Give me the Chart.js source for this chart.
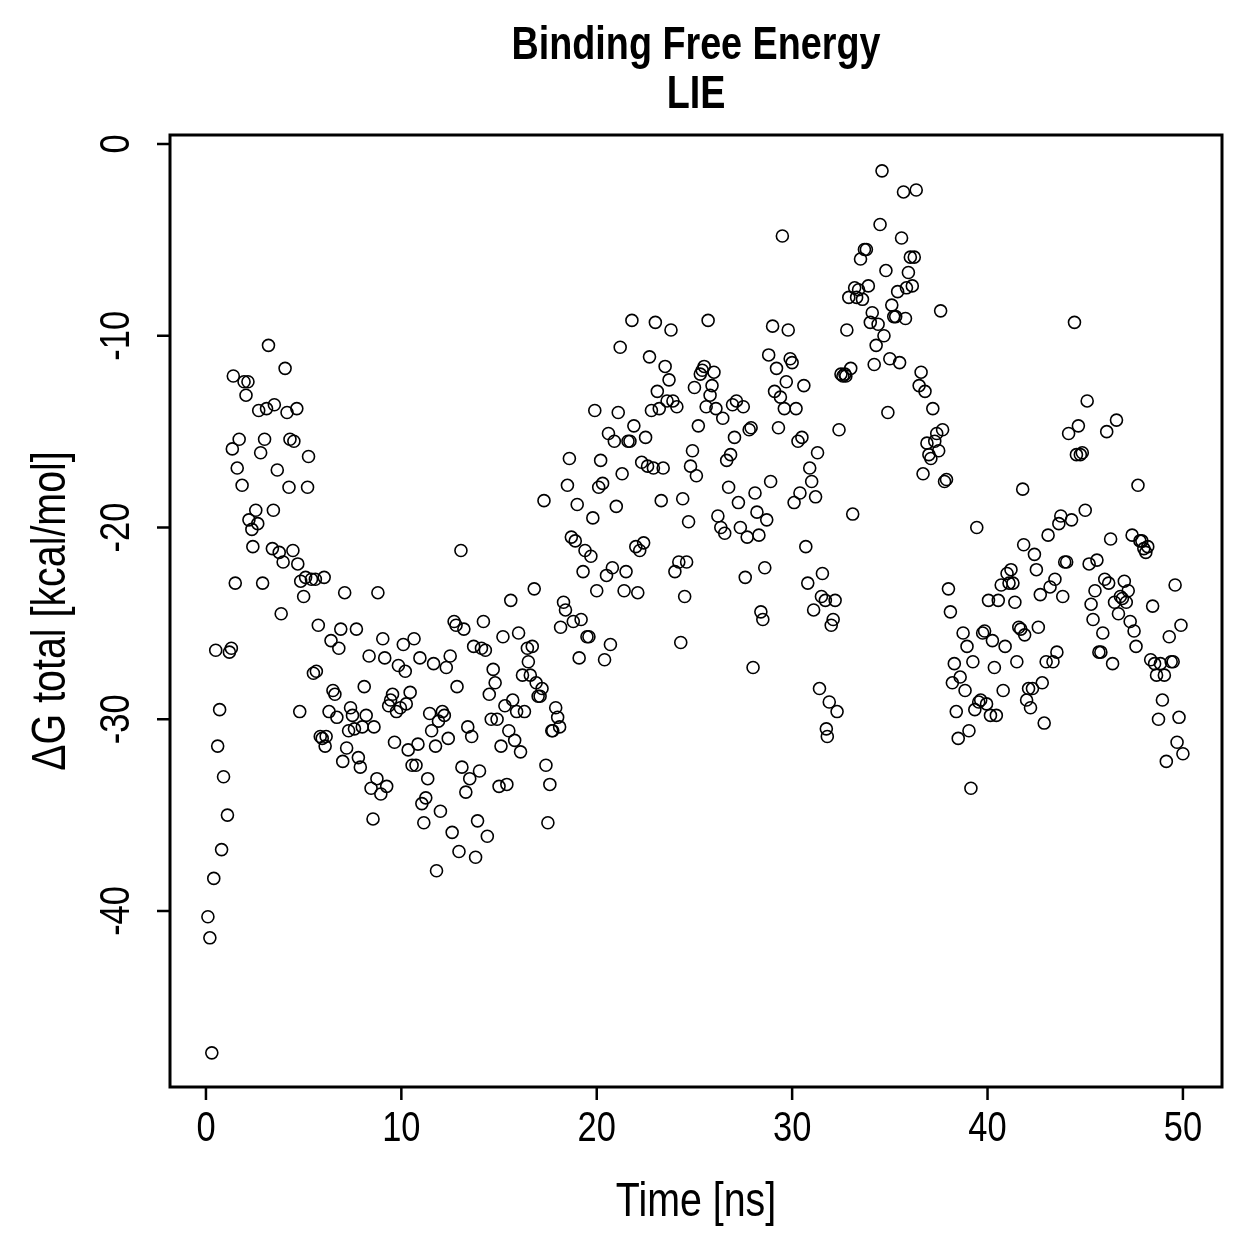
<!DOCTYPE html>
<html>
<head>
<meta charset="utf-8">
<script src="https://cdn.jsdelivr.net/npm/chart.js@4.4.1/dist/chart.umd.min.js"></script>
<style>
  html, body { margin: 0; padding: 0; background: #fff; }
  #wrap { width: 1259px; height: 1259px; }
</style>
</head>
<body>
<div id="wrap"><canvas id="myChart" width="1259" height="1259"></canvas></div>
<script>
const titleLines = ['Binding Free Energy', 'LIE'];
const xLabel = 'Time [ns]';
const yLabel = 'ΔG total [kcal/mol]';
const xTicks = [0, 10, 20, 30, 40, 50];
const yTicks = [0, -10, -20, -30, -40];

// time (ns) of each frame
const time = [
  0.1, 0.2, 0.3, 0.4, 0.5, 0.6, 0.7, 0.8, 0.9, 1.1, 1.2, 1.3, 1.4, 1.5, 1.6, 1.7, 1.35, 1.85, 1.95, 2.15,
  2.05, 2.2, 2.35, 2.4, 2.55, 2.65, 2.7, 2.8, 2.9, 3.0, 3.1, 3.2, 3.4, 3.45, 3.5, 3.65, 3.75, 3.85, 3.95, 4.05,
  4.15, 4.25, 4.3, 4.45, 4.5, 4.65, 4.7, 4.8, 4.85, 5.0, 5.1, 5.2, 5.25, 5.4, 5.5, 5.6, 5.65, 5.75, 5.85, 5.95,
  6.05, 6.1, 6.15, 6.3, 6.4, 6.5, 6.6, 6.7, 6.8, 6.9, 7.0, 7.1, 7.2, 7.3, 7.4, 7.5, 7.6, 7.7, 7.8, 7.9,
  8.0, 8.1, 8.2, 8.35, 8.45, 8.55, 8.6, 8.75, 8.8, 8.95, 9.05, 9.15, 9.25, 9.35, 9.45, 9.55, 9.65, 9.75, 9.85, 9.95,
  10.1, 10.2, 10.25, 10.35, 10.45, 10.55, 10.65, 10.75, 10.85, 10.95, 11.05, 11.15, 11.25, 11.35, 11.45, 11.55, 11.65, 11.75, 11.8, 11.9,
  12.0, 12.1, 12.2, 12.3, 12.4, 12.5, 12.6, 12.7, 12.8, 12.85, 12.95, 13.05, 13.1, 13.2, 13.3, 13.4, 13.5, 13.6, 13.7, 13.8,
  13.9, 14.0, 14.1, 14.2, 14.3, 14.4, 14.5, 14.6, 14.7, 14.8, 14.9, 15.0, 15.1, 15.2, 15.3, 15.4, 15.5, 15.6, 15.7, 15.8,
  15.9, 16.0, 16.1, 16.2, 16.3, 16.45, 16.5, 16.6, 16.7, 16.8, 16.9, 17.0, 17.1, 17.2, 17.3, 17.4, 17.5, 17.6, 17.7, 17.75,
  17.9, 18.0, 18.1, 18.15, 18.3, 18.4, 18.5, 18.6, 18.7, 18.8, 18.9, 19.0, 19.1, 19.2, 19.3, 19.4, 19.5, 19.6, 19.7, 19.8,
  19.9, 20.0, 20.1, 20.2, 20.3, 20.4, 20.5, 20.6, 20.7, 20.8, 20.9, 21.0, 21.1, 21.2, 21.3, 21.4, 21.5, 21.6, 21.7, 21.8,
  21.9, 22.0, 22.1, 22.2, 22.3, 22.4, 22.5, 22.6, 22.7, 22.8, 22.9, 23.0, 23.1, 23.2, 23.3, 23.4, 23.5, 23.6, 23.7, 23.8,
  23.9, 24.0, 24.1, 24.2, 24.3, 24.4, 24.5, 24.6, 24.7, 24.8, 24.9, 25.0, 25.1, 25.2, 25.3, 25.4, 25.5, 25.6, 25.7, 25.8,
  25.9, 26.0, 26.1, 26.2, 26.35, 26.45, 26.55, 26.65, 26.75, 26.85, 26.95, 27.05, 27.15, 27.25, 27.35, 27.5, 27.6, 27.7, 27.8, 27.9,
  28.0, 28.1, 28.2, 28.3, 28.4, 28.5, 28.6, 28.7, 28.8, 28.9, 29.0, 29.1, 29.2, 29.3, 29.4, 29.5, 29.6, 29.7, 29.8, 29.9,
  30.0, 30.1, 30.2, 30.3, 30.4, 30.5, 30.6, 30.7, 30.8, 30.9, 31.0, 31.1, 31.2, 31.3, 31.4, 31.5, 31.55, 31.7, 31.75, 31.8,
  31.9, 32.0, 32.1, 32.2, 32.3, 32.4, 32.5, 32.6, 32.7, 32.75, 32.8, 32.9, 33.0, 33.1, 33.2, 33.3, 33.4, 33.5, 33.6, 33.7,
  33.8, 33.9, 34.0, 34.1, 34.2, 34.3, 34.4, 34.5, 34.6, 34.7, 34.8, 34.9, 35.0, 35.1, 35.2, 35.3, 35.4, 35.5, 35.6, 35.7,
  35.8, 35.85, 35.95, 36.05, 36.15, 36.25, 36.35, 36.5, 36.6, 36.7, 36.8, 36.9, 37.0, 37.1, 37.2, 37.3, 37.4, 37.5, 37.6, 37.7,
  37.8, 37.9, 38.0, 38.1, 38.2, 38.3, 38.4, 38.5, 38.6, 38.75, 38.85, 38.95, 39.05, 39.15, 39.25, 39.35, 39.45, 39.55, 39.65, 39.75,
  39.85, 39.95, 40.05, 40.15, 40.25, 40.35, 40.45, 40.55, 40.7, 40.8, 40.9, 41.0, 41.1, 41.2, 41.3, 41.4, 41.5, 41.6, 41.7, 41.8,
  41.85, 41.9, 42.0, 42.1, 42.2, 42.3, 42.4, 42.5, 42.6, 42.7, 42.8, 42.9, 43.0, 43.1, 43.2, 43.35, 43.45, 43.55, 43.65, 43.75,
  43.85, 43.95, 44.05, 44.15, 44.3, 44.45, 44.55, 44.65, 44.75, 44.85, 45.0, 45.1, 45.2, 45.3, 45.4, 45.5, 45.6, 45.7, 45.8, 45.9,
  46.0, 46.1, 46.2, 46.3, 46.4, 46.5, 46.6, 46.7, 46.8, 46.9, 47.0, 47.1, 47.2, 47.3, 47.4, 47.5, 47.6, 47.7, 47.8, 47.9,
  48.0, 48.1, 48.2, 48.35, 48.45, 48.55, 48.65, 48.75, 48.85, 48.95, 49.05, 49.15, 49.3, 49.4, 49.5, 49.6, 49.7, 49.8, 49.9, 50.0
];

// delta G total (kcal/mol), same order as time
const dG = [
  -40.3, -41.4, -47.4, -38.3, -26.4, -31.4, -29.5, -36.8, -33.0, -35.0, -26.5, -26.3, -12.1, -22.9, -16.9, -15.4, -15.9, -17.8, -12.4, -12.4,
  -13.1, -19.6, -20.1, -21.0, -19.1, -19.8, -13.9, -16.1, -22.9, -15.4, -13.8, -10.5, -21.1, -19.1, -13.6, -17.0, -21.3, -24.5, -21.8, -11.7,
  -14.0, -17.9, -15.4, -21.2, -15.5, -13.8, -21.9, -29.6, -22.8, -23.6, -22.6, -17.9, -16.3, -22.7, -27.6, -22.7, -27.5, -25.1, -30.9, -31.0,
  -22.6, -31.4, -30.9, -29.6, -25.9, -28.5, -28.7, -29.9, -26.3, -25.3, -32.2, -23.4, -31.5, -30.6, -29.4, -29.8, -30.5, -25.3, -32.0, -32.5,
  -30.4, -28.3, -29.8, -26.7, -33.6, -35.2, -30.4, -33.1, -23.4, -33.9, -25.8, -26.8, -33.5, -29.3, -29.0, -28.7, -31.2, -29.6, -27.2, -29.4,
  -26.1, -27.5, -29.2, -31.6, -28.6, -32.4, -25.8, -32.4, -31.3, -26.8, -34.4, -35.4, -34.1, -33.1, -29.7, -30.6, -27.1, -31.4, -37.9, -30.1,
  -34.8, -29.6, -29.8, -27.3, -31.0, -26.7, -35.9, -24.9, -25.1, -28.3, -36.9, -21.2, -32.5, -25.3, -33.8, -30.4, -33.1, -30.9, -26.2, -37.2,
  -35.3, -32.7, -26.3, -24.9, -26.4, -36.1, -28.7, -30.0, -27.4, -28.1, -30.0, -33.5, -31.4, -25.7, -29.3, -33.4, -30.6, -23.8, -29.0, -31.1,
  -29.6, -25.5, -31.7, -27.7, -29.6, -26.3, -27.0, -27.7, -26.2, -23.2, -28.1, -28.8, -28.8, -28.4, -18.6, -32.4, -35.4, -33.4, -30.6, -30.6,
  -29.4, -29.9, -30.4, -25.2, -23.9, -24.3, -17.8, -16.4, -20.5, -24.9, -20.7, -18.8, -26.8, -24.8, -22.3, -21.2, -25.7, -25.7, -21.5, -19.5,
  -13.9, -23.3, -17.9, -16.5, -17.7, -26.9, -22.5, -15.1, -26.1, -22.1, -15.5, -18.9, -14.0, -10.6, -17.2, -23.3, -22.3, -15.5, -15.5, -9.2,
  -14.7, -21.0, -23.4, -21.2, -16.6, -20.8, -15.3, -16.8, -11.1, -13.9, -16.9, -9.3, -12.9, -13.8, -18.6, -16.9, -11.6, -13.4, -12.3, -9.7,
  -13.4, -22.3, -13.7, -21.8, -26.0, -18.5, -23.6, -21.8, -19.7, -16.8, -16.0, -12.7, -17.3, -14.7, -12.0, -11.8, -11.6, -13.7, -9.2, -13.1,
  -12.6, -11.9, -13.8, -19.4, -20.0, -14.3, -20.3, -16.5, -17.9, -16.2, -13.6, -15.3, -13.4, -18.7, -20.0, -13.7, -22.6, -20.5, -14.9, -14.8,
  -27.3, -18.2, -19.2, -20.4, -24.4, -24.8, -22.1, -19.6, -11.0, -17.6, -9.5, -12.9, -11.7, -14.8, -13.2, -4.8, -13.8, -12.4, -9.7, -11.2,
  -11.4, -18.7, -13.8, -15.5, -18.2, -15.3, -12.6, -21.0, -22.9, -16.9, -17.6, -24.3, -18.4, -16.1, -28.4, -23.6, -22.4, -23.8, -30.5, -30.9,
  -29.1, -25.1, -24.8, -23.8, -29.6, -14.9, -12.0, -12.1, -12.0, -12.1, -9.7, -8.0, -11.7, -19.3, -7.5, -8.0, -7.6, -6.0, -8.1, -5.5,
  -5.5, -7.4, -9.3, -8.8, -11.5, -10.5, -9.4, -4.2, -1.4, -10.0, -6.6, -14.0, -11.2, -8.4, -9.0, -9.0, -7.7, -11.4, -4.9, -2.5,
  -9.1, -7.5, -6.7, -5.9, -7.4, -5.9, -2.4, -12.6, -11.9, -17.2, -12.9, -15.6, -16.2, -16.4, -13.8, -15.5, -15.1, -16.0, -8.7, -14.9,
  -17.6, -17.5, -23.2, -24.4, -28.1, -27.1, -29.6, -31.0, -27.8, -25.5, -28.5, -26.2, -30.6, -33.6, -27.0, -29.5, -20.0, -29.1, -29.0, -25.5,
  -25.4, -29.2, -23.8, -29.8, -25.9, -27.3, -29.8, -23.8, -23.0, -28.5, -26.2, -22.4, -22.9, -22.2, -22.9, -23.9, -27.0, -25.2, -25.3, -18.0,
  -20.9, -25.6, -29.0, -28.4, -29.4, -28.4, -21.4, -22.2, -25.2, -23.5, -28.1, -30.2, -27.0, -20.4, -23.1, -27.0, -22.7, -26.5, -19.8, -19.4,
  -23.6, -21.8, -21.8, -15.1, -19.6, -9.3, -16.2, -14.7, -16.2, -16.1, -19.1, -13.4, -21.9, -24.0, -24.8, -23.3, -21.7, -26.5, -26.5, -25.5,
  -22.7, -15.0, -22.9, -20.6, -27.1, -23.9, -14.4, -24.5, -23.6, -23.7, -22.8, -23.9, -23.3, -24.9, -20.4, -25.4, -26.2, -17.8, -20.7, -20.7,
  -21.1, -21.3, -21.0, -26.9, -24.1, -27.1, -27.7, -30.0, -27.1, -29.0, -27.7, -32.2, -25.7, -27.0, -27.0, -23.0, -31.2, -29.9, -25.1, -31.8
];

const points = time.map((t, i) => ({ x: t, y: dG[i] }));

// the reference uses a narrow Helvetica, so squeeze Liberation Sans horizontally
function narrowText(ctx, text, x, y, rot) {
  ctx.save();
  ctx.translate(x, y);
  if (rot) ctx.rotate(rot);
  ctx.scale(0.82, 1);
  ctx.fillText(text, 0, 0);
  ctx.restore();
}

// R-style frame: box, outward ticks, rotated y labels
const rAxes = {
  id: 'rAxes',
  afterDraw(chart) {
    const { ctx, chartArea: a, scales } = chart;
    const xs = scales.x, ys = scales.y;
    const cx = (a.left + a.right) / 2;
    ctx.save();
    ctx.strokeStyle = '#000';
    ctx.fillStyle = '#000';
    ctx.lineWidth = 3;
    ctx.strokeRect(a.left, a.top, a.right - a.left, a.bottom - a.top);

    ctx.textAlign = 'center';
    ctx.textBaseline = 'middle';
    ctx.font = '42px "Liberation Sans", Arial, sans-serif';

    // x axis
    ctx.lineWidth = 2.5;
    ctx.beginPath();
    xTicks.forEach(v => {
      const px = xs.getPixelForValue(v);
      ctx.moveTo(px, a.bottom);
      ctx.lineTo(px, a.bottom + 13);
    });
    ctx.stroke();
    xTicks.forEach(v => narrowText(ctx, String(v), xs.getPixelForValue(v), 1129));

    // y axis
    ctx.beginPath();
    yTicks.forEach(v => {
      const py = ys.getPixelForValue(v);
      ctx.moveTo(a.left, py);
      ctx.lineTo(a.left - 13, py);
    });
    ctx.stroke();
    yTicks.forEach(v => narrowText(ctx, String(v), 117, ys.getPixelForValue(v), -Math.PI / 2));

    // axis titles
    ctx.font = '48px "Liberation Sans", Arial, sans-serif';
    narrowText(ctx, xLabel, cx, 1203);
    narrowText(ctx, yLabel, 52, (a.top + a.bottom) / 2, -Math.PI / 2);

    // title
    ctx.font = 'bold 46px "Liberation Sans", Arial, sans-serif';
    narrowText(ctx, titleLines[0], cx, 46);
    narrowText(ctx, titleLines[1], cx, 95);
    ctx.restore();
  }
};

new Chart(document.getElementById('myChart'), {
  type: 'scatter',
  data: {
    datasets: [{
      data: points,
      pointStyle: 'circle',
      pointRadius: 6,
      pointBorderWidth: 1.6,
      pointBorderColor: '#000',
      pointBackgroundColor: 'rgba(0,0,0,0)'
    }]
  },
  options: {
    responsive: false,
    animation: false,
    devicePixelRatio: 1,
    layout: { padding: { left: 170, right: 37, top: 135, bottom: 172 } },
    plugins: { legend: { display: false }, tooltip: { enabled: false }, title: { display: false } },
    scales: {
      x: { type: 'linear', min: -1.84, max: 52.0, display: false },
      y: { type: 'linear', min: -49.18, max: 0.47, display: false }
    }
  },
  plugins: [rAxes]
});
</script>
</body>
</html>
